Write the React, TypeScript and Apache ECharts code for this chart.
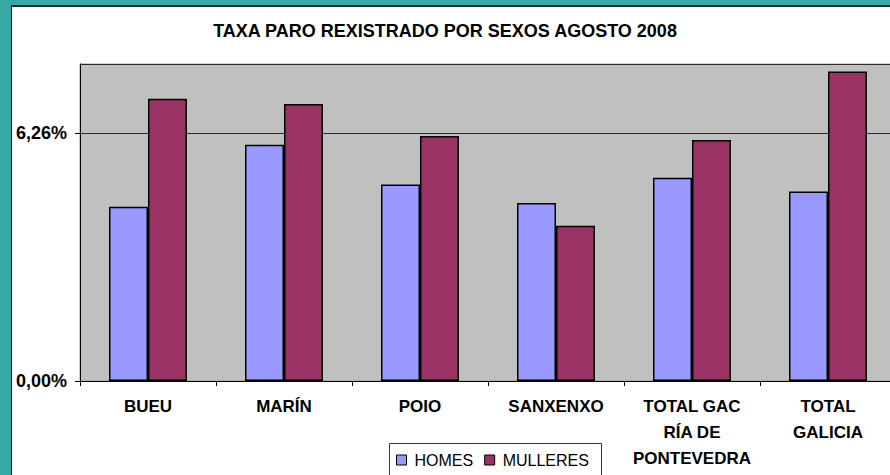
import React, { useEffect, useRef } from "react";
import * as echarts from "echarts";

const titleText = "TAXA PARO REXISTRADO POR SEXOS AGOSTO 2008";
const categories = ["BUEU", "MARÍN", "POIO", "SANXENXO", "TOTAL GAC\nRÍA DE\nPONTEVEDRA", "TOTAL\nGALICIA"];
const seriesNames = ["HOMES", "MULLERES"];
const homes = [4.4, 5.96, 4.96, 4.49, 5.13, 4.78];
const mulleres = [7.12, 6.99, 6.18, 3.92, 6.08, 7.81];
const yMin = 0;
const yMax = 8;
const yInterval = 6.26;

const FONT = "'Liberation Sans', Arial, sans-serif";

export default function App() {
  const ref = useRef<HTMLDivElement>(null);
  useEffect(() => {
    if (!ref.current) return;
    const chart = echarts.init(ref.current, null, { renderer: "svg" });
    chart.setOption({
      animation: false,
      backgroundColor: "transparent",
      title: {
        text: titleText,
        left: "center",
        top: 22,
        padding: 0,
        textStyle: { fontFamily: FONT, fontSize: 18, fontWeight: "bold", color: "#000" },
      },
      legend: {
        data: seriesNames,
        left: 396,
        top: 452,
        padding: 0,
        icon: "rect",
        itemWidth: 10,
        itemHeight: 10,
        itemGap: 11,
        itemStyle: { borderColor: "#000", borderWidth: 1 },
        textStyle: { fontFamily: FONT, fontSize: 16, color: "#000", padding: [0, 0, 0, 3] },
        z: 10,
      },
      graphic: [
        {
          type: "rect",
          shape: { x: 389.5, y: 443.5, width: 212, height: 40 },
          style: { fill: "#fff", stroke: "#333", lineWidth: 1 },
          z: 1,
        },
      ],
      grid: {
        left: 80,
        right: -6,
        top: 64,
        bottom: 94,
        show: true,
        backgroundColor: "#C0C0C0",
        borderColor: "#9a9a9a",
        borderWidth: 1,
        containLabel: false,
        outerBoundsMode: "none",
      },
      xAxis: {
        type: "category",
        data: categories,
        axisLine: { lineStyle: { color: "#000", width: 1 } },
        axisTick: { show: true, length: 5, lineStyle: { color: "#000" } },
        axisLabel: {
          interval: 0,
          margin: 12,
          fontFamily: FONT,
          fontSize: 17,
          fontWeight: "bold",
          color: "#000",
          lineHeight: 26,
        },
      },
      yAxis: {
        type: "value",
        min: yMin,
        max: yMax,
        interval: yInterval,
        axisLine: { show: true, lineStyle: { color: "#000", width: 1 } },
        axisTick: { show: true, length: 5, lineStyle: { color: "#000" } },
        axisLabel: {
          showMaxLabel: false,
          margin: 13,
          fontFamily: FONT,
          fontSize: 18,
          fontWeight: "bold",
          color: "#000",
          formatter: (v: number) => v.toFixed(2).replace(".", ",") + "%",
        },
        splitLine: { show: true, lineStyle: { color: "#2a2a2a", width: 1 } },
      },
      series: [
        {
          name: seriesNames[0],
          type: "bar",
          data: homes,
          barWidth: 39,
          barGap: "0%",
          itemStyle: { color: "#9999FF", borderColor: "#000", borderWidth: 1.5 },
        },
        {
          name: seriesNames[1],
          type: "bar",
          data: mulleres,
          barWidth: 39,
          barGap: "0%",
          itemStyle: { color: "#993366", borderColor: "#000", borderWidth: 1.5 },
        },
      ],
    });
    return () => chart.dispose();
  }, []);

  return (
    <div style={{ position: "fixed", left: 0, top: 0, width: 890, height: 475, background: "#38A8A4", overflow: "hidden" }}>
      <div
        style={{
          position: "absolute",
          left: 11,
          top: 5,
          width: 900,
          height: 500,
          background: "#fff",
          borderLeft: "1px solid #111",
          borderTop: "2px solid #1a2a2a",
        }}
      />
      <div ref={ref} style={{ position: "absolute", left: 0, top: 0, width: 890, height: 475 }} />
    </div>
  );
}
